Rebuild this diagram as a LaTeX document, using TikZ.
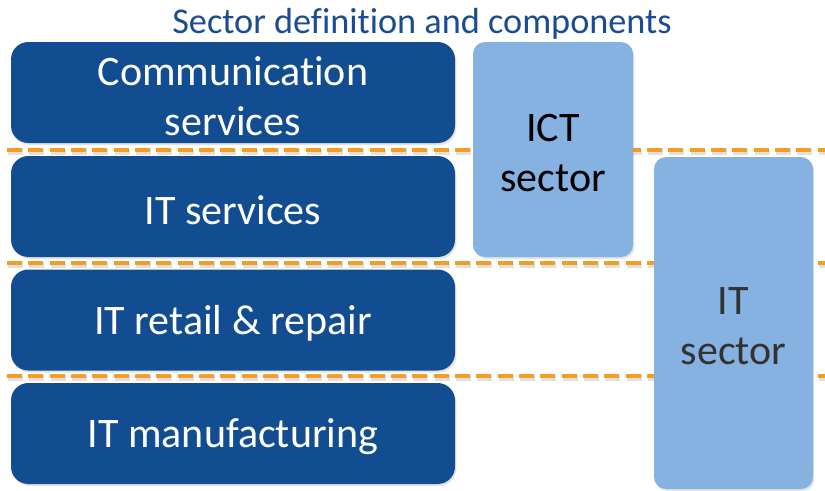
\documentclass[tikz,border=0pt]{standalone}
\usepackage{fontspec}
\setmainfont[Ligatures=NoCommon]{Carlito}
\usetikzlibrary{shadows}
\definecolor{darkbox}{RGB}{19,77,145}
\definecolor{lightbox}{RGB}{134,178,225}
\definecolor{titleblue}{RGB}{27,76,145}
\definecolor{dashorange}{RGB}{242,157,35}
\definecolor{itgray}{RGB}{50,50,50}
\tikzset{
  darkblock/.style={fill=darkbox, draw=none, rounded corners=13pt,
    minimum width=333pt, minimum height=75.75pt, inner sep=0pt,
    drop shadow={shadow xshift=1pt, shadow yshift=-1.5pt, opacity=0.22}},
  lightblock/.style={fill=lightbox, draw=none, rounded corners=9pt,
    minimum width=120pt, inner sep=0pt,
    drop shadow={shadow xshift=1pt, shadow yshift=-1.5pt, opacity=0.22}},
  blocktext/.style={align=center, inner sep=0pt, yshift=-2.4pt,
    font=\fontsize{31.5}{37.5}\selectfont},
  sepline/.style={draw=dashorange, line width=3pt,
    dash pattern=on 11.25pt off 4.75pt},
  sepshadow/.style={draw=black, opacity=0.12, line width=4.5pt,
    dash pattern=on 11.25pt off 4.75pt}
}
\begin{document}
\begin{tikzpicture}[x=0.75pt, y=-0.75pt]
\useasboundingbox (0,0) rectangle (825,490);
% title
\node[text=titleblue, font=\fontsize{27.2}{30}\selectfont, anchor=base]
  (title) at (422,33) {Sector definition and components};
% dashed separators (behind boxes)
\foreach \yy/\nm in {149.5/a,263/b,376/c}{
  \coordinate (l\nm) at (7,\yy);
  \coordinate (r\nm) at (825,\yy);
  \draw[sepshadow] ([xshift=0.8pt,yshift=-1.8pt]l\nm) -- ([xshift=0.8pt,yshift=-1.8pt]r\nm);
  \draw[sepline] (l\nm) -- (r\nm);
}
% dark blocks
\node[darkblock] (comm) at (233,92.5) {};
\node[darkblock] (itserv) at (233,206.5) {};
\node[darkblock] (retail) at (233,320) {};
\node[darkblock] (manuf) at (233,433.5) {};
\node[blocktext, text=white] (commt) at (comm.center) {Communication\\services};
\node[blocktext, text=white] (itservt) at (itserv.center) {IT services};
\node[blocktext, text=white] (retailt) at (retail.center) {IT retail \& repair};
\node[blocktext, text=white] (manuft) at (manuf.center) {IT manufacturing};
% light blocks
\node[lightblock, minimum height=161.25pt] (ict) at (553,149.5) {};
\node[lightblock, minimum width=119.25pt, minimum height=249pt]
  (it) at (733.5,323) {};
\node[blocktext, text=black] (ictt) at (ict.center) {ICT\\sector};
\node[blocktext, text=itgray] (itt) at (it.center) {IT\\sector};
\end{tikzpicture}
\end{document}
